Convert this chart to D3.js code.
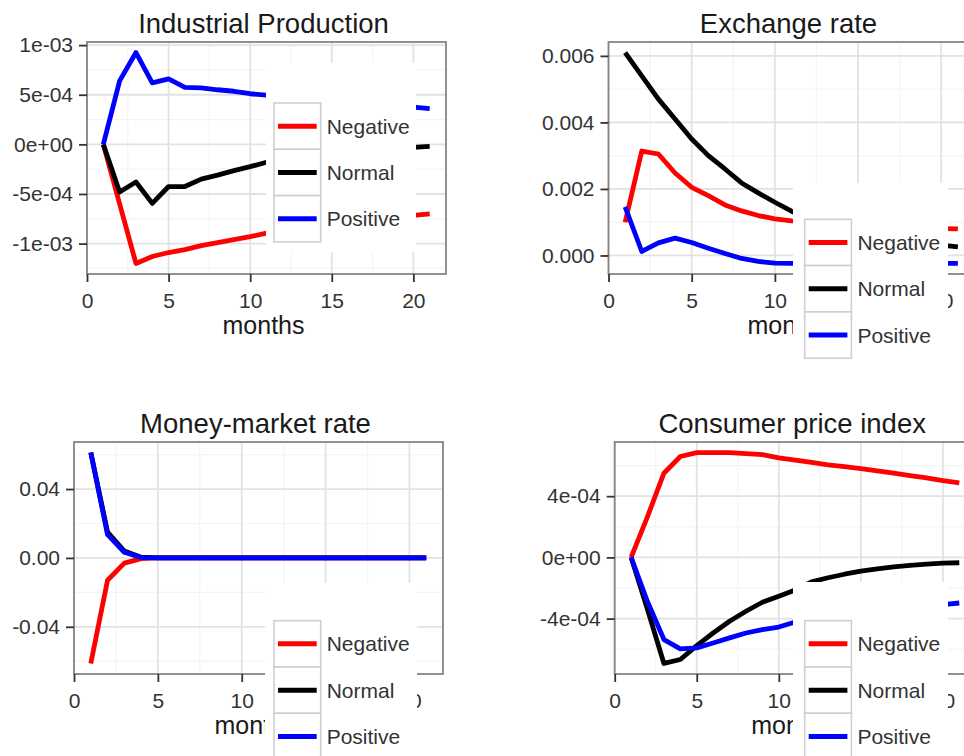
<!DOCTYPE html>
<html><head><meta charset="utf-8">
<script src="https://cdn.jsdelivr.net/npm/d3@7"></script>
<style>
body{margin:0;background:#fff}
svg{display:block}
text{font-family:"Liberation Sans",Arial,sans-serif}
</style>
</head><body>
<svg id="chart" width="964" height="756"></svg>
<script>
// ---------------- DATA ----------------
const months = [1,2,3,4,5,6,7,8,9,10,11,12,13,14,15,16,17,18,19,20,21];
const seriesNames = ["Negative","Normal","Positive"];
const panelTitles = ["Industrial Production","Exchange rate","Money-market rate","Consumer price index"];
const xAxisTitle = "months";
const xTicks = [0,5,10,15,20];
const xTickLabels = ["0","5","10","15","20"];

// Industrial Production
const ipNegative = [0,-0.60e-3,-1.20e-3,-1.13e-3,-1.09e-3,-1.06e-3,-1.02e-3,-0.99e-3,-0.96e-3,-0.93e-3,-0.895e-3,-0.87e-3,-0.85e-3,-0.83e-3,-0.81e-3,-0.79e-3,-0.77e-3,-0.75e-3,-0.73e-3,-0.715e-3,-0.70e-3];
const ipNormal   = [0,-0.48e-3,-0.38e-3,-0.595e-3,-0.425e-3,-0.425e-3,-0.35e-3,-0.31e-3,-0.265e-3,-0.225e-3,-0.18e-3,-0.16e-3,-0.14e-3,-0.125e-3,-0.105e-3,-0.09e-3,-0.07e-3,-0.055e-3,-0.04e-3,-0.03e-3,-0.02e-3];
const ipPositive = [0,0.64e-3,0.925e-3,0.62e-3,0.66e-3,0.575e-3,0.57e-3,0.55e-3,0.535e-3,0.51e-3,0.495e-3,0.48e-3,0.47e-3,0.455e-3,0.44e-3,0.43e-3,0.415e-3,0.40e-3,0.39e-3,0.375e-3,0.36e-3];
const ipYTicks = [-1e-3,-5e-4,0,5e-4,1e-3];
const ipYLabels = ["-1e-03","-5e-04","0e+00","5e-04","1e-03"];

// Exchange rate
const erNegative = [0.0010,0.00314,0.00305,0.00248,0.00205,0.0018,0.00152,0.00134,0.0012,0.0011,0.00104,0.00102,0.0010,0.00097,0.00094,0.00091,0.00088,0.00086,0.00083,0.00081,0.0008];
const erNormal   = [0.0061,0.0054,0.0047,0.0041,0.0035,0.0030,0.0026,0.00218,0.00188,0.0016,0.00133,0.00112,0.00096,0.00082,0.0007,0.0006,0.00051,0.00043,0.00037,0.00031,0.00026];
const erPositive = [0.00146,0.00012,0.00038,0.00052,0.00039,0.00022,0.00006,-0.00009,-0.00018,-0.00023,-0.00024,-0.00024,-0.00024,-0.00024,-0.00024,-0.00024,-0.00024,-0.00024,-0.00024,-0.00024,-0.00024];
const erYTicks = [0,0.002,0.004,0.006];
const erYLabels = ["0.000","0.002","0.004","0.006"];

// Money-market rate
const mmNegative = [-0.0613,-0.013,-0.003,-0.0004,0,0,0,0,0,0,0,0,0,0,0,0,0,0,0,0,0];
const mmNormal   = [0.0612,0.015,0.004,0.0004,0,0,0,0,0,0,0,0,0,0,0,0,0,0,0,0,0];
const mmPositive = [0.0612,0.0135,0.0033,0.0002,0,0,0,0,0,0,0,0,0,0,0,0,0,0,0,0,0];
const mmYTicks = [-0.04,0,0.04];
const mmYLabels = ["-0.04","0.00","0.04"];

// Consumer price index
const cpiNegative = [0,2.67e-4,5.5e-4,6.59e-4,6.85e-4,6.85e-4,6.85e-4,6.78e-4,6.72e-4,6.5e-4,6.35e-4,6.2e-4,6.05e-4,5.93e-4,5.8e-4,5.65e-4,5.5e-4,5.35e-4,5.2e-4,5.02e-4,4.87e-4];
const cpiNormal   = [0,-3.41e-4,-6.93e-4,-6.67e-4,-5.76e-4,-4.94e-4,-4.17e-4,-3.52e-4,-2.93e-4,-2.54e-4,-2.13e-4,-1.6e-4,-1.33e-4,-1.1e-4,-0.9e-4,-0.75e-4,-0.62e-4,-0.52e-4,-0.44e-4,-0.38e-4,-0.35e-4];
const cpiPositive = [0,-2.9e-4,-5.37e-4,-5.98e-4,-5.91e-4,-5.59e-4,-5.26e-4,-4.94e-4,-4.72e-4,-4.55e-4,-4.22e-4,-4.1e-4,-3.97e-4,-3.85e-4,-3.73e-4,-3.6e-4,-3.48e-4,-3.35e-4,-3.22e-4,-3.08e-4,-2.98e-4];
const cpiYTicks = [-4e-4,0,4e-4];
const cpiYLabels = ["-4e-04","0e+00","4e-04"];

// ---------------- STYLE / LAYOUT ----------------
const colors = {Negative:"#ff0000", Normal:"#000000", Positive:"#0000ff"};
const panels = [
  {title:panelTitles[0], series:[ipNegative,ipNormal,ipPositive], yTicks:ipYTicks, yLabels:ipYLabels,
   box:{left:87, top:42, width:359, height:232}, cover:[266,63,416,252], legend:[274,103]},
  {title:panelTitles[1], series:[erNegative,erNormal,erPositive], yTicks:erYTicks, yLabels:erYLabels,
   box:{left:608.5, top:42, width:366, height:232}, cover:[793,183,948,378], legend:[804.7,219.3]},
  {title:panelTitles[2], series:[mmNegative,mmNormal,mmPositive], yTicks:mmYTicks, yLabels:mmYLabels,
   box:{left:74, top:442, width:369, height:232}, cover:[265,583,417,756], legend:[274,620.7]},
  {title:panelTitles[3], series:[cpiNegative,cpiNormal,cpiPositive], yTicks:cpiYTicks, yLabels:cpiYLabels,
   box:{left:614.7, top:442, width:361, height:232}, cover:[793,582,948,756], legend:[804.7,620.7]}
];

const svg = d3.select("#chart");

function expand(ext){ const r = ext[1]-ext[0]; return [ext[0]-0.05*r, ext[1]+0.05*r]; }
function minorBreaks(ticks, domain){
  const step = ticks[1]-ticks[0];
  const ext = [ticks[0]-step, ...ticks, ticks[ticks.length-1]+step];
  const out = [];
  for(let i=0;i<ext.length-1;i++){ const m=(ext[i]+ext[i+1])/2; if(m>=domain[0]&&m<=domain[1]) out.push(m); }
  return out;
}

panels.forEach(p => {
  const b = p.box;
  const g = svg.append("g");
  const xDom = expand(d3.extent(months));
  const yDom = expand(d3.extent(p.series.flat()));
  const x = d3.scaleLinear().domain(xDom).range([b.left, b.left+b.width]);
  const y = d3.scaleLinear().domain(yDom).range([b.top+b.height, b.top]);

  // minor grid
  const gm = g.append("g").attr("stroke","#f4f4f4").attr("stroke-width",1.2);
  minorBreaks(xTicks, xDom).forEach(v => gm.append("line").attr("x1",x(v)).attr("x2",x(v)).attr("y1",b.top).attr("y2",b.top+b.height));
  minorBreaks(p.yTicks, yDom).forEach(v => gm.append("line").attr("y1",y(v)).attr("y2",y(v)).attr("x1",b.left).attr("x2",b.left+b.width));
  // major grid
  const gg = g.append("g").attr("stroke","#e2e2e2").attr("stroke-width",1.8);
  xTicks.filter(v=>v>=xDom[0]&&v<=xDom[1]).forEach(v => gg.append("line").attr("x1",x(v)).attr("x2",x(v)).attr("y1",b.top).attr("y2",b.top+b.height));
  p.yTicks.forEach(v => gg.append("line").attr("y1",y(v)).attr("y2",y(v)).attr("x1",b.left).attr("x2",b.left+b.width));

  // lines
  const line = d3.line().x((d,i)=>x(months[i])).y(d=>y(d));
  p.series.forEach((s,i) => {
    g.append("path").datum(s).attr("d",line).attr("fill","none")
      .attr("stroke",colors[seriesNames[i]]).attr("stroke-width",4.8).attr("stroke-linejoin","round");
  });

  // panel border
  g.append("rect").attr("x",b.left).attr("y",b.top).attr("width",b.width).attr("height",b.height)
    .attr("fill","none").attr("stroke","#858585").attr("stroke-width",1.8);

  // axes
  const xAxis = d3.axisBottom(x).tickValues(xTicks).tickFormat((d,i)=>xTickLabels[i]).tickSize(8).tickPadding(6);
  const ax = g.append("g").attr("transform",`translate(0,${b.top+b.height})`).call(xAxis);
  const yAxis = d3.axisLeft(y).tickValues(p.yTicks).tickFormat((d,i)=>p.yLabels[i]).tickSize(8).tickPadding(6);
  const ay = g.append("g").attr("transform",`translate(${b.left},0)`).call(yAxis);
  [ax,ay].forEach(a => {
    a.select(".domain").remove();
    a.selectAll(".tick line").attr("stroke","#333").attr("stroke-width",1.8);
    a.selectAll(".tick text").attr("fill","#333").style("font-size","21px").style("font-family","'Liberation Sans',Arial,sans-serif");
  });
  ax.selectAll(".tick text").attr("dy","0.95em");

  // titles
  g.append("text").attr("x",b.left+b.width/2-3).attr("y",b.top-9.5).attr("text-anchor","middle")
    .attr("fill","#1a1a1a").style("font-size","27.5px").text(p.title);
  g.append("text").attr("x",b.left+b.width/2-3).attr("y",b.top+b.height+60).attr("text-anchor","middle")
    .attr("fill","#1a1a1a").style("font-size","25px").text(xAxisTitle);

  // white cover behind the legend
  const c = p.cover;
  g.append("rect").attr("x",c[0]).attr("y",c[1]).attr("width",c[2]-c[0]).attr("height",c[3]-c[1]).attr("fill","#fff");

  // drop tick labels that sit entirely under the cover (not visible in the reference)
  ax.selectAll(".tick text").each(function(){
    const r = this.getBoundingClientRect();
    if (r.left >= c[0] && r.right <= c[2] && r.top >= c[1] && r.bottom <= c[3]) d3.select(this).remove();
  });

  // legend
  const kw = 46.7, kh = 46.3;
  const lg = g.append("g").attr("transform",`translate(${p.legend[0]},${p.legend[1]})`);
  seriesNames.forEach((n,i) => {
    const k = lg.append("g").attr("transform",`translate(0,${i*kh})`);
    k.append("rect").attr("width",kw).attr("height",kh).attr("fill","#fff").attr("stroke","#cfcfcf").attr("stroke-width",1.6);
    k.append("line").attr("x1",4).attr("x2",kw-4).attr("y1",kh/2).attr("y2",kh/2)
      .attr("stroke",colors[n]).attr("stroke-width",5);
    k.append("text").attr("x",kw+6).attr("y",kh/2).attr("dy","0.36em").attr("fill","#333")
      .style("font-size","21px").text(n);
  });
});
</script>
</body></html>
